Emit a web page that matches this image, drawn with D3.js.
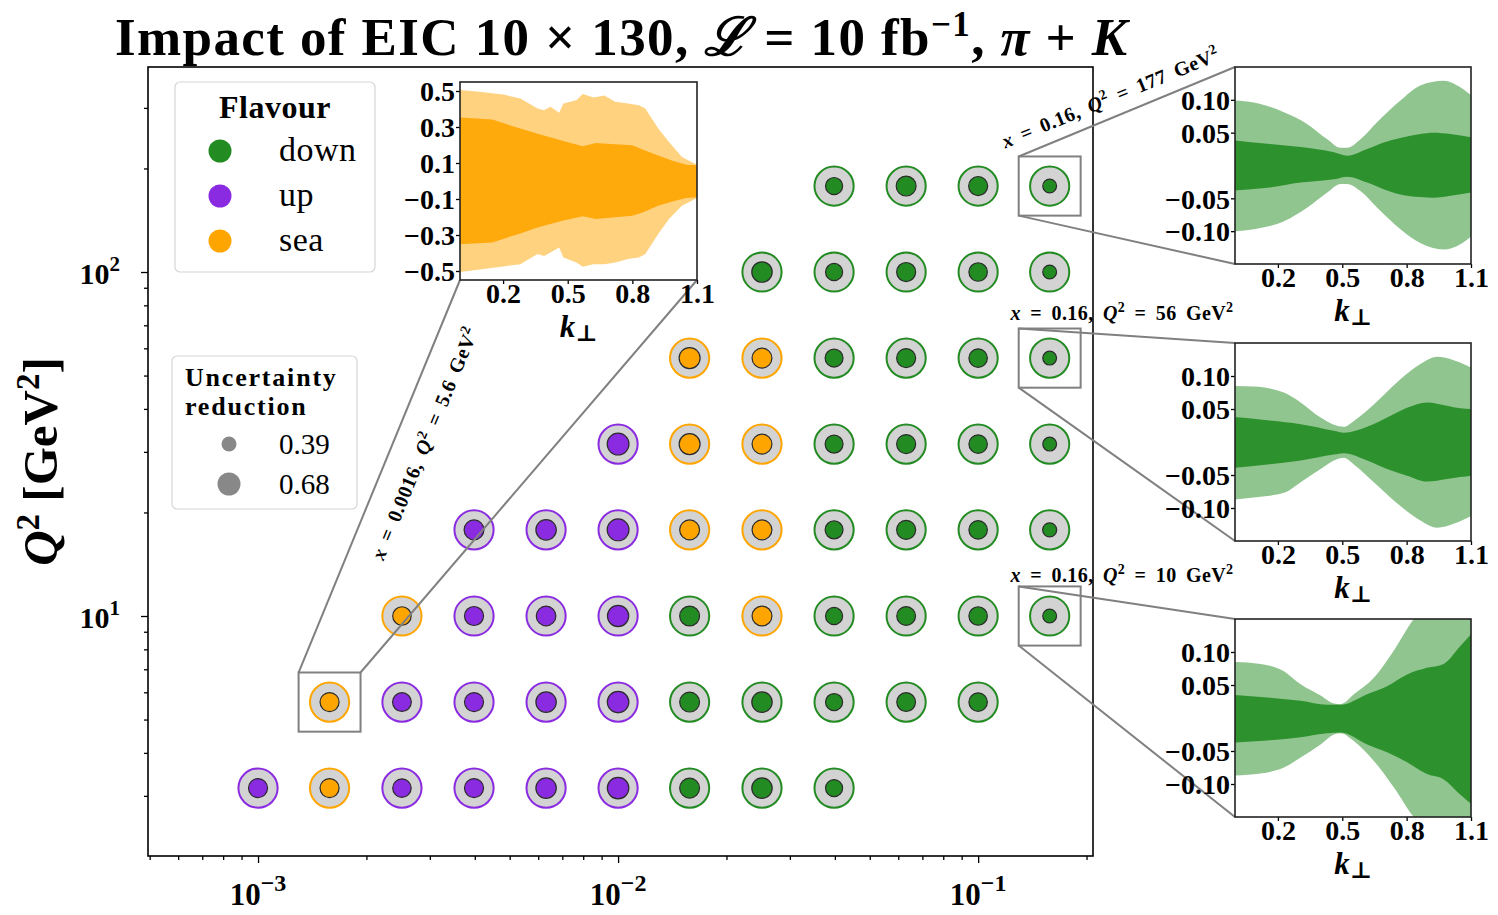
<!DOCTYPE html>
<html>
<head>
<meta charset="utf-8">
<script src="https://cdn.jsdelivr.net/npm/d3@7"></script>
<style>
  body { margin: 0; background: #fff; }
  svg text { font-family: "Liberation Serif", "DejaVu Serif", serif; fill: #000; }
</style>
</head>
<body>
<svg id="chart" width="1498" height="915"></svg>
<script>
// ---------------- data ----------------
const xValues = [0.001, 0.00158, 0.00251, 0.00398, 0.00631, 0.01, 0.0158, 0.0251, 0.0398, 0.0631, 0.1, 0.158];
const q2Values = [3.16, 5.62, 10, 17.8, 31.6, 56.2, 100, 177.8];

// per Q² row: index of first x column, flavour with largest impact, uncertainty reduction
const rowStart = [0, 1, 2, 3, 5, 6, 7, 8];
const rowFlavour = [
  ["up", "sea", "up", "up", "up", "up", "down", "down", "down"],
  ["sea", "up", "up", "up", "up", "down", "down", "down", "down", "down"],
  ["sea", "up", "up", "up", "down", "sea", "down", "down", "down", "down"],
  ["up", "up", "up", "sea", "sea", "down", "down", "down", "down"],
  ["up", "sea", "sea", "down", "down", "down", "down"],
  ["sea", "sea", "down", "down", "down", "down"],
  ["down", "down", "down", "down", "down"],
  ["down", "down", "down", "down"]
];
const rowReduction = [
  [0.58, 0.58, 0.56, 0.58, 0.63, 0.67, 0.61, 0.63, 0.51],
  [0.58, 0.57, 0.58, 0.63, 0.67, 0.61, 0.63, 0.51, 0.57, 0.56],
  [0.56, 0.58, 0.60, 0.66, 0.61, 0.61, 0.51, 0.57, 0.56, 0.39],
  [0.61, 0.63, 0.68, 0.61, 0.61, 0.54, 0.58, 0.56, 0.40],
  [0.68, 0.65, 0.61, 0.54, 0.58, 0.56, 0.39],
  [0.65, 0.61, 0.54, 0.58, 0.56, 0.39],
  [0.63, 0.51, 0.58, 0.56, 0.39],
  [0.51, 0.61, 0.58, 0.39]
];

const flavours = ["down", "up", "sea"];
const flavourColors = ["#228B22", "#8A2BE2", "#FFA500"];
const legendReductions = [0.39, 0.68];

const xMajorTicks = [1e-3, 1e-2, 1e-1];
const xTickExponents = ["−3", "−2", "−1"];
const yMajorTicks = [10, 100];
const yTickExponents = ["1", "2"];

// relative TMD uncertainty bands vs k⊥ for the four highlighted bins
const seaOuterK  = [0, 0.1, 0.2, 0.28, 0.36, 0.39, 0.42, 0.46, 0.48, 0.54, 0.57, 0.62, 0.67, 0.72, 0.78, 0.83, 0.86, 0.92, 0.97, 1.03, 1.1];
const seaOuterHi = [0.505, 0.495, 0.48, 0.459, 0.403, 0.393, 0.412, 0.379, 0.431, 0.449, 0.483, 0.464, 0.475, 0.44, 0.431, 0.421, 0.403, 0.291, 0.217, 0.133, 0.09];
const seaOuterLo = [-0.505, -0.49, -0.475, -0.462, -0.406, -0.416, -0.397, -0.369, -0.425, -0.453, -0.477, -0.462, -0.462, -0.453, -0.434, -0.425, -0.406, -0.295, -0.211, -0.137, -0.094];
const seaInnerK  = [0, 0.15, 0.28, 0.36, 0.48, 0.57, 0.63, 0.72, 0.8, 0.85, 0.92, 0.99, 1.05, 1.1];
const seaInnerHi = [0.353, 0.341, 0.291, 0.263, 0.222, 0.193, 0.211, 0.204, 0.198, 0.174, 0.142, 0.111, 0.09, 0.087];
const seaInnerLo = [-0.351, -0.341, -0.291, -0.258, -0.22, -0.196, -0.211, -0.202, -0.193, -0.174, -0.137, -0.112, -0.094, -0.09];

const d177OuterK  = [0, 0.088, 0.228, 0.337, 0.43, 0.492, 0.523, 0.585, 0.662, 0.771, 0.864, 0.973, 1.05, 1.1];
const d177OuterHi = [0.099, 0.096, 0.081, 0.063, 0.040, 0.027, 0.027, 0.040, 0.066, 0.099, 0.122, 0.129, 0.119, 0.107];
const d177OuterLo = [-0.1, -0.097, -0.085, -0.064, -0.041, -0.028, -0.028, -0.039, -0.064, -0.097, -0.118, -0.128, -0.12, -0.108];
const d177InnerK  = [0, 0.15, 0.306, 0.461, 0.523, 0.616, 0.693, 0.771, 0.864, 0.926, 1.004, 1.1];
const d177InnerHi = [0.038, 0.033, 0.028, 0.02, 0.015, 0.025, 0.035, 0.042, 0.048, 0.05, 0.048, 0.043];
const d177InnerLo = [-0.038, -0.034, -0.026, -0.021, -0.017, -0.026, -0.036, -0.044, -0.048, -0.049, -0.046, -0.041];

const d56OuterK  = [0, 0.088, 0.228, 0.306, 0.399, 0.461, 0.507, 0.554, 0.647, 0.771, 0.864, 0.942, 1.019, 1.1];
const d56OuterHi = [0.085, 0.084, 0.075, 0.060, 0.037, 0.026, 0.023, 0.032, 0.057, 0.095, 0.118, 0.129, 0.124, 0.113];
const d56OuterLo = [-0.087, -0.084, -0.077, -0.061, -0.041, -0.028, -0.024, -0.034, -0.061, -0.097, -0.119, -0.13, -0.124, -0.112];
const d56InnerK  = [0, 0.15, 0.306, 0.461, 0.507, 0.616, 0.709, 0.802, 0.895, 0.988, 1.05, 1.1];
const d56InnerHi = [0.038, 0.033, 0.027, 0.017, 0.014, 0.023, 0.037, 0.052, 0.06, 0.055, 0.051, 0.05];
const d56InnerLo = [-0.039, -0.034, -0.028, -0.019, -0.017, -0.028, -0.041, -0.051, -0.06, -0.056, -0.053, -0.051];

const d10OuterK  = [0, 0.119, 0.228, 0.306, 0.399, 0.461, 0.492, 0.554, 0.647, 0.74, 0.833, 0.926, 1.1];
const d10OuterHi = [0.085, 0.082, 0.071, 0.051, 0.034, 0.022, 0.021, 0.036, 0.061, 0.102, 0.15, 0.18, 0.22];
const d10OuterLo = [-0.087, -0.084, -0.075, -0.06, -0.04, -0.025, -0.023, -0.035, -0.065, -0.105, -0.15, -0.18, -0.22];
const d10InnerK  = [0, 0.15, 0.306, 0.43, 0.492, 0.616, 0.709, 0.802, 0.895, 0.973, 1.05, 1.1];
const d10InnerHi = [0.035, 0.031, 0.026, 0.02, 0.02, 0.036, 0.048, 0.066, 0.076, 0.082, 0.109, 0.127];
const d10InnerLo = [-0.037, -0.034, -0.029, -0.023, -0.022, -0.04, -0.052, -0.067, -0.085, -0.093, -0.116, -0.13];

const kTicks = [0.2, 0.5, 0.8, 1.1];
const seaYTicks = [-0.5, -0.3, -0.1, 0.1, 0.3, 0.5];
const downYTicks = [-0.10, -0.05, 0.05, 0.10];

// ---------------- layout ----------------
const svg = d3.select("#chart");
const frame = { left: 148, right: 1093, top: 67, bottom: 856 };

const x = d3.scaleLog().domain([Math.pow(10, -3.3056), Math.pow(10, -0.681)]).range([frame.left, frame.right]);
const y = d3.scaleLog().domain([Math.pow(10, 0.3023), Math.pow(10, 2.596)]).range([frame.bottom, frame.top]);
const rInner = d3.scaleLinear().domain([0.39, 0.68]).range([7.5, 11.5]);
const color = d3.scaleOrdinal().domain(flavours).range(flavourColors);

const outerR = 19.6;
const boxHalfLog = 0.086;  // half-width (in decades) of the highlighted bin squares

// title
const title = svg.append("text")
  .attr("x", 115).attr("y", 55)
  .attr("font-size", 53).attr("font-weight", "bold")
  .attr("textLength", 1012).attr("lengthAdjust", "spacing");
title.append("tspan").text("Impact of EIC 10 × 130, ");
title.append("tspan").attr("font-style", "italic").text("ℒ");
title.append("tspan").text(" = 10 fb");
title.append("tspan").attr("dy", -19).attr("font-size", 35).text("−1");
title.append("tspan").attr("dy", 19).text(", ");
title.append("tspan").attr("font-style", "italic").text("π");
title.append("tspan").text(" + ");
title.append("tspan").attr("font-style", "italic").text("K");

// ---------------- main axes ----------------
const g = svg.append("g");

// minor ticks
const xMinor = [];
for (let e = -4; e <= -1; e++) for (let m = 2; m <= 9; m++) {
  const v = m * Math.pow(10, e);
  if (v > x.domain()[0] && v < x.domain()[1]) xMinor.push(v);
}
const yMinor = [];
for (let e = 0; e <= 2; e++) for (let m = 2; m <= 9; m++) {
  const v = m * Math.pow(10, e);
  if (v > y.domain()[0] && v < y.domain()[1]) yMinor.push(v);
}

const xAxisMinor = g.append("g").attr("transform", `translate(0,${frame.bottom})`)
  .call(d3.axisBottom(x).tickValues(xMinor).tickSize(4).tickFormat(""));
const xAxisMajor = g.append("g").attr("transform", `translate(0,${frame.bottom})`)
  .call(d3.axisBottom(x).tickValues(xMajorTicks).tickSize(7).tickFormat(""));
const yAxisMinor = g.append("g").attr("transform", `translate(${frame.left},0)`)
  .call(d3.axisLeft(y).tickValues(yMinor).tickSize(4).tickFormat(""));
const yAxisMajor = g.append("g").attr("transform", `translate(${frame.left},0)`)
  .call(d3.axisLeft(y).tickValues(yMajorTicks).tickSize(7).tickFormat(""));
[xAxisMinor, xAxisMajor, yAxisMinor, yAxisMajor].forEach(a => {
  a.select(".domain").remove();
  a.selectAll("line").attr("stroke", "#000").attr("stroke-width", 1.3);
});

// tick labels with superscript exponents
xMajorTicks.forEach((v, i) => {
  const t = g.append("text").attr("x", x(v)).attr("y", 905)
    .attr("text-anchor", "middle").attr("font-size", 31).attr("font-weight", "bold");
  t.append("tspan").text("10");
  t.append("tspan").attr("dy", -14).attr("font-size", 24).text(xTickExponents[i]);
});
yMajorTicks.forEach((v, i) => {
  const t = g.append("text").attr("x", 120).attr("y", y(v) + 12)
    .attr("text-anchor", "end").attr("font-size", 30).attr("font-weight", "bold");
  t.append("tspan").text("10");
  t.append("tspan").attr("dy", -13).attr("font-size", 21).text(yTickExponents[i]);
});

// y label
const yl = g.append("text")
  .attr("transform", `translate(57,${(frame.top + frame.bottom) / 2}) rotate(-90)`)
  .attr("text-anchor", "middle").attr("font-size", 49).attr("font-weight", "bold");
yl.append("tspan").attr("font-style", "italic").text("Q");
yl.append("tspan").attr("dy", -18).attr("font-size", 33).text("2");
yl.append("tspan").attr("dy", 18).text(" [GeV");
yl.append("tspan").attr("dy", -18).attr("font-size", 33).text("2");
yl.append("tspan").attr("dy", 18).text("]");

// frame
g.append("rect")
  .attr("x", frame.left).attr("y", frame.top)
  .attr("width", frame.right - frame.left).attr("height", frame.bottom - frame.top)
  .attr("fill", "none").attr("stroke", "#000").attr("stroke-width", 1.6);

// ---------------- points ----------------
const points = [];
q2Values.forEach((q, r) => {
  rowFlavour[r].forEach((f, j) => {
    points.push({ x: xValues[rowStart[r] + j], q2: q, flavour: f, red: rowReduction[r][j] });
  });
});

const pts = g.append("g").selectAll("g").data(points).join("g")
  .attr("transform", d => `translate(${x(d.x)},${y(d.q2)})`);
pts.append("circle").attr("r", outerR)
  .attr("fill", "#D3D3D3").attr("stroke", d => color(d.flavour)).attr("stroke-width", 2);
pts.append("circle").attr("r", d => rInner(d.red) - 0.6)
  .attr("fill", d => color(d.flavour)).attr("stroke", "#2b2b2b").attr("stroke-width", 1.2);

// ---------------- legends ----------------
const leg1 = svg.append("g");
leg1.append("rect").attr("x", 175).attr("y", 82).attr("width", 200).attr("height", 190)
  .attr("rx", 5).attr("fill", "#fff").attr("fill-opacity", 0.8)
  .attr("stroke", "#d6d6d6").attr("stroke-width", 1.2);
leg1.append("text").attr("x", 275).attr("y", 118).attr("text-anchor", "middle")
  .attr("font-size", 32).attr("font-weight", "bold").attr("letter-spacing", 0.5).text("Flavour");
flavours.forEach((f, i) => {
  const yy = 151 + i * 45;
  leg1.append("circle").attr("cx", 220).attr("cy", yy).attr("r", 11.5).attr("fill", color(f));
  leg1.append("text").attr("x", 279).attr("y", yy + 10).attr("font-size", 34).attr("letter-spacing", 0.5).text(f);
});

const leg2 = svg.append("g");
leg2.append("rect").attr("x", 172).attr("y", 356).attr("width", 185).attr("height", 153)
  .attr("rx", 5).attr("fill", "#fff").attr("fill-opacity", 0.8)
  .attr("stroke", "#d6d6d6").attr("stroke-width", 1.2);
leg2.append("text").attr("x", 185).attr("y", 386).attr("font-size", 26).attr("font-weight", "bold")
  .attr("letter-spacing", 1.8).text("Uncertainty");
leg2.append("text").attr("x", 185).attr("y", 415).attr("font-size", 26).attr("font-weight", "bold")
  .attr("letter-spacing", 1.8).text("reduction");
legendReductions.forEach((v, i) => {
  const yy = 444 + i * 40;
  leg2.append("circle").attr("cx", 229).attr("cy", yy).attr("r", rInner(v)).attr("fill", "#888");
  leg2.append("text").attr("x", 279).attr("y", yy + 10).attr("font-size", 29).text(v.toFixed(2));
});

// ---------------- insets ----------------
const insets = [
  { id: "sea", px: [460, 697], py: [82, 280], ylim: [-0.55, 0.55], yTicks: seaYTicks, fmt: ".1f",
    col: flavourColors[2], curve: d3.curveLinear,
    outer: [seaOuterK, seaOuterLo, seaOuterHi], inner: [seaInnerK, seaInnerLo, seaInnerHi],
    bin: [0.00158, 5.62], link: "top" },
  { id: "d177", px: [1235, 1471], py: [67, 264], ylim: [-0.15, 0.15], yTicks: downYTicks, fmt: ".2f",
    col: flavourColors[0], curve: d3.curveMonotoneX,
    outer: [d177OuterK, d177OuterLo, d177OuterHi], inner: [d177InnerK, d177InnerLo, d177InnerHi],
    bin: [0.158, 177.8], link: "left" },
  { id: "d56", px: [1235, 1471], py: [343, 541], ylim: [-0.15, 0.15], yTicks: downYTicks, fmt: ".2f",
    col: flavourColors[0], curve: d3.curveMonotoneX,
    outer: [d56OuterK, d56OuterLo, d56OuterHi], inner: [d56InnerK, d56InnerLo, d56InnerHi],
    bin: [0.158, 56.2], link: "left" },
  { id: "d10", px: [1235, 1471], py: [619, 817], ylim: [-0.15, 0.15], yTicks: downYTicks, fmt: ".2f",
    col: flavourColors[0], curve: d3.curveMonotoneX,
    outer: [d10OuterK, d10OuterLo, d10OuterHi], inner: [d10InnerK, d10InnerLo, d10InnerHi],
    bin: [0.158, 10], link: "left" }
];

const connectors = svg.append("g");

insets.forEach(ins => {
  // highlighted bin square on the main axes
  const bx0 = x(ins.bin[0] * Math.pow(10, -boxHalfLog)), bx1 = x(ins.bin[0] * Math.pow(10, boxHalfLog));
  const by0 = y(ins.bin[1] * Math.pow(10, boxHalfLog)), by1 = y(ins.bin[1] * Math.pow(10, -boxHalfLog));
  connectors.append("rect").attr("x", bx0).attr("y", by0).attr("width", bx1 - bx0).attr("height", by1 - by0)
    .attr("fill", "none").attr("stroke", "#808080").attr("stroke-width", 2);
  let segs;
  if (ins.link === "top") {
    segs = [[bx0, by0, ins.px[0], ins.py[1]], [bx1, by0, ins.px[1], ins.py[1]]];
  } else {
    segs = [[bx0, by0, ins.px[0], ins.py[0]], [bx0, by1, ins.px[0], ins.py[1]]];
  }
  segs.forEach(s => connectors.append("line")
    .attr("x1", s[0]).attr("y1", s[1]).attr("x2", s[2]).attr("y2", s[3])
    .attr("stroke", "#808080").attr("stroke-width", 2));

  const ix = d3.scaleLinear().domain([0, 1.1]).range(ins.px);
  const iy = d3.scaleLinear().domain(ins.ylim).range([ins.py[1], ins.py[0]]);
  const ig = svg.append("g");
  ig.append("rect").attr("x", ins.px[0]).attr("y", ins.py[0])
    .attr("width", ins.px[1] - ins.px[0]).attr("height", ins.py[1] - ins.py[0]).attr("fill", "#fff");
  const clipId = "clip-" + ins.id;
  ig.append("clipPath").attr("id", clipId).append("rect")
    .attr("x", ins.px[0]).attr("y", ins.py[0])
    .attr("width", ins.px[1] - ins.px[0]).attr("height", ins.py[1] - ins.py[0]);
  const bands = ig.append("g").attr("clip-path", `url(#${clipId})`);
  const band = (arr, op) => {
    const rows = arr[0].map((k, i) => ({ k, lo: arr[1][i], hi: arr[2][i] }));
    bands.append("path").datum(rows)
      .attr("d", d3.area().curve(ins.curve).x(d => ix(d.k)).y0(d => iy(d.lo)).y1(d => iy(d.hi)))
      .attr("fill", ins.col).attr("fill-opacity", op);
  };
  band(ins.outer, 0.5);
  band(ins.inner, 0.9);

  const ax = ig.append("g").attr("transform", `translate(0,${ins.py[1]})`)
    .call(d3.axisBottom(ix).tickValues(kTicks).tickSize(4).tickPadding(1).tickFormat(d3.format(".1f")));
  const ay = ig.append("g").attr("transform", `translate(${ins.px[0]},0)`)
    .call(d3.axisLeft(iy).tickValues(ins.yTicks).tickSize(4).tickPadding(1).tickFormat(d3.format(ins.fmt)));
  [ax, ay].forEach(a => {
    a.select(".domain").remove();
    a.selectAll("line").attr("stroke", "#000").attr("stroke-width", 1.3);
    a.selectAll("text").attr("font-family", "Liberation Serif, DejaVu Serif, serif")
      .attr("font-size", 28).attr("font-weight", "bold").attr("fill", "#000");
  });
  ax.selectAll("text").attr("dy", "0.66em");
  ay.selectAll("text").attr("dy", "0.35em");
  ig.append("rect").attr("x", ins.px[0]).attr("y", ins.py[0])
    .attr("width", ins.px[1] - ins.px[0]).attr("height", ins.py[1] - ins.py[0])
    .attr("fill", "none").attr("stroke", "#222").attr("stroke-width", 1.6);
  const kl = ig.append("text").attr("x", (ins.px[0] + ins.px[1]) / 2).attr("y", ins.py[1] + 57)
    .attr("text-anchor", "middle").attr("font-size", 31).attr("font-weight", "bold");
  kl.append("tspan").attr("font-style", "italic").text("k");
  kl.append("tspan").attr("dy", 4).attr("font-size", 23).text("⊥");
});

// ---------------- bin annotations ----------------
function binLabel(parent, xv, q2v, size) {
  const t = parent.append("text").attr("font-size", size).attr("font-weight", "bold")
    .attr("text-anchor", "middle").attr("letter-spacing", 0.4).attr("word-spacing", 4);
  t.append("tspan").attr("font-style", "italic").text("x");
  t.append("tspan").text(` = ${xv}, `);
  t.append("tspan").attr("font-style", "italic").text("Q");
  t.append("tspan").attr("dy", -8).attr("font-size", size * 0.7).text("2");
  t.append("tspan").attr("dy", 8).text(` = ${q2v} GeV`);
  t.append("tspan").attr("dy", -8).attr("font-size", size * 0.7).text("2");
  return t;
}
const ann = svg.append("g");
binLabel(ann, "0.16", "177", 20).attr("transform", "translate(1113,104) rotate(-22.4)");
binLabel(ann, "0.16", "56", 20).attr("transform", "translate(1122,320)");
binLabel(ann, "0.16", "10", 20).attr("transform", "translate(1122,582)");
binLabel(ann, "0.0016", "5.6", 20).attr("transform", "translate(431,446) rotate(-67.6)");
</script>
</body>
</html>
